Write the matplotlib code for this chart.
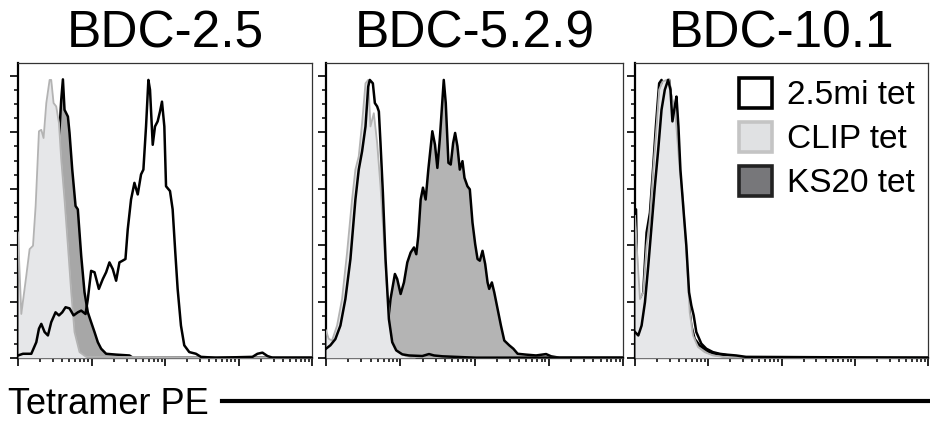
import matplotlib
matplotlib.use("Agg")
import matplotlib.pyplot as plt
from matplotlib.patches import Patch
import numpy as np

# ---------------- data (x in log10 decades of PE intensity, y in % of max) -------------
titles = ["BDC-2.5", "BDC-5.2.9", "BDC-10.1"]
legend_labels = ["2.5mi tet", "CLIP tet", "KS20 tet"]
axis_label = "Tetramer PE"

# Panel 1 : BDC-2.5
p1_clip_x = [0, .045, .113, .158, .204, .240, .285, .317, .348, .385, .430, .452, .484, .520, .557, .588, .633, .679, .724, .769, .837, .928, 4.0]
p1_clip_y = [44.5, 15.6, 29.2, 38.6, 39.8, 53.9, 80.4, 80.9, 78.0, 90.4, 98.6, 98.6, 90.4, 89.2, 83.3, 70.4, 56.2, 39.8, 23.3, 9.2, 2.1, 0.4, 0.1]
p1_ks20_x = [0, .158, .294, .430, .520, .566, .588, .611, .633, .656, .679, .701, .738, .783, .814, .860, .905, .950, .995, 1.041, 1.086, 1.131, 1.199, 1.335, 1.516, 1.561, 4.0]
p1_ks20_y = [0.4, 2.1, 11.5, 46.8, 70.4, 81.5, 91.5, 98.8, 88.0, 86.8, 85.6, 79.8, 66.8, 53.9, 52.7, 36.2, 23.3, 16.2, 12.7, 9.2, 5.6, 3.3, 1.5, 1.2, 0.9, 0.1, 0.1]
p1_mi_x = [0, .068, .181, .249, .285, .317, .362, .407, .452, .511, .557, .602, .647, .701, .756, .814, .860, .919, .950, .995,
           1.041, 1.100, 1.154, 1.199, 1.244, 1.290, 1.335, 1.380, 1.416, 1.462, 1.493, 1.538, 1.584, 1.629, 1.674, 1.706, 1.742,
           1.774, 1.796, 1.833, 1.864, 1.900, 1.932, 1.959, 1.991, 2.014, 2.068, 2.104, 2.140, 2.172, 2.217, 2.262, 2.330, 2.421,
           2.489, 2.692, 3.190, 3.258, 3.326, 3.394, 3.462, 4.0]
p1_mi_y = [0.9, 1.5, 1.5, 5.6, 10.4, 12.1, 9.2, 8.0, 12.7, 16.2, 15.1, 16.2, 18.0, 17.6, 15.1, 16.2, 16.8, 15.6, 20.9, 30.9,
           30.4, 24.5, 28.0, 30.4, 33.9, 31.5, 27.4, 33.9, 34.4, 35.1, 45.6, 56.2, 62.1, 58.0, 65.1, 66.8, 82.1,
           98.6, 95.1, 75.6, 82.1, 83.9, 87.4, 90.9, 82.1, 60.9, 59.2, 52.7, 37.4, 24.5, 11.5, 4.5, 2.1, 1.5,
           0.4, 0.1, 0.4, 1.5, 1.9, 0.7, 0.1, 0.1]

# Panel 2 : BDC-5.2.9
p2_clip_x = [0, .036, .081, .149, .216, .284, .351, .396, .441, .486, .532, .568, .599, .644, .689, .734, .779, .824, .869, .914, .982, 1.072, 1.207, 4.0]
p2_clip_y = [9.8, 6.8, 6.2, 11.5, 20.9, 37.4, 56.2, 66.8, 71.5, 83.3, 97.4, 98.6, 82.1, 86.8, 76.2, 60.9, 42.1, 23.3, 11.5, 5.6, 2.1, 0.7, 0.1, 0.1]
p2_mi_x = [0, .059, .126, .194, .261, .329, .396, .441, .486, .532, .568, .590, .631, .658, .689, .712, .734, .766, .802, .847,
           .892, .946, 1.027, 1.117, 1.297, 1.387, 1.455, 1.568, 2.018, 4.0]
p2_mi_y = [3.3, 4.5, 6.7, 11.5, 20.9, 35.1, 56.2, 66.8, 73.3, 82.1, 96.2, 98.6, 97.4, 90.4, 89.2, 87.4, 76.2, 58.6, 35.1, 13.8,
           5.6, 2.7, 1.3, 0.9, 0.7, 1.4, 0.9, 0.6, 0.1, 0.1]
p2_ks20_x = [0, .441, .667, .802, .869, .928, .959, 1.005, 1.050, 1.095, 1.140, 1.185, 1.216, 1.243, 1.275, 1.306, 1.342, 1.378,
             1.432, 1.468, 1.500, 1.532, 1.559, 1.586, 1.613, 1.649, 1.680, 1.712, 1.739, 1.770, 1.802, 1.838, 1.865, 1.905,
             1.937, 1.973, 2.009, 2.041, 2.072, 2.108, 2.144, 2.176, 2.198, 2.234, 2.266, 2.311, 2.356, 2.401, 2.468, 2.523,
             2.581, 2.694, 2.829, 2.964, 3.032, 3.144, 4.0]
p2_ks20_y = [0.4, 0.9, 2.1, 4.5, 20.9, 29.8, 28.0, 22.7, 26.8, 33.9, 37.4, 39.2, 36.8, 43.3, 56.2, 60.4, 56.2, 66.8,
             80.4, 75.6, 67.4, 77.4, 88.0, 98.6, 90.4, 69.2, 68.6, 76.2, 79.8, 75.1, 66.8, 69.8, 63.9, 60.9,
             59.8, 48.0, 40.4, 35.1, 34.5, 38.0, 33.3, 26.8, 24.5, 26.8, 23.3, 17.4, 11.5, 6.2, 4.5, 3.3,
             1.5, 1.2, 0.9, 1.4, 0.6, 0.1, 0.1]

# Panel 3 : BDC-10.1
p3_clip_x = [0, .023, .068, .113, .158, .204, .249, .294, .330, .376, .430, .466, .498, .543, .575, .611, .656, .701, .747, .792, .860, .950, 1.063, 1.199, 4.0]
p3_clip_y = [50.4, 39.8, 20.9, 23.3, 39.8, 49.2, 66.8, 82.1, 95.1, 98.0, 98.6, 98.8, 92.7, 89.2, 78.6, 66.8, 56.2, 37.4, 16.1, 8.0, 3.9, 2.1, 0.9, 0.4, 0.1]
p3_mi_x = [0, .045, .090, .136, .181, .226, .271, .317, .362, .407, .452, .484, .511, .543, .566, .593, .620, .665, .701, .738,
           .769, .801, .837, .905, .973, 1.063, 1.154, 1.244, 1.380, 1.516, 4.0]
p3_mi_y = [9.2, 8.0, 11.5, 19.8, 32.7, 46.8, 60.9, 73.9, 88.0, 95.1, 98.6, 95.1, 83.9, 89.2, 92.7, 82.1, 66.8, 51.5, 39.8, 23.3,
           18.6, 15.1, 9.2, 5.1, 3.3, 2.1, 1.5, 1.2, 0.9, 0.4, 0.1]
p3_ks20_x = [0, .014, .032, .068, .113, .158, .204, .249, .285, .330, .362, .394, .430, .466, .498, .543, .588, .633, .679, .724,
             .769, .814, .882, .950, 1.018, 1.109, 1.199, 1.335, 1.425, 4.0]
p3_ks20_y = [52.7, 52.7, 23.3, 18.6, 23.3, 44.5, 51.5, 68.0, 82.1, 97.4, 98.6, 95.6, 98.0, 98.6, 91.5, 85.6, 70.4, 58.6, 42.1, 20.9,
             11.5, 6.8, 4.5, 3.3, 2.1, 1.5, 1.2, 0.7, 0.1, 0.1]

panels = [
    dict(clip=(p1_clip_x, p1_clip_y), ks20=(p1_ks20_x, p1_ks20_y), mi=(p1_mi_x, p1_mi_y), ks_fill="#a7a7a7"),
    dict(clip=(p2_clip_x, p2_clip_y), ks20=(p2_ks20_x, p2_ks20_y), mi=(p2_mi_x, p2_mi_y), ks_fill="#b4b4b4"),
    dict(clip=(p3_clip_x, p3_clip_y), ks20=(p3_ks20_x, p3_ks20_y), mi=(p3_mi_x, p3_mi_y), ks_fill="#a9a9a9"),
]

# ---------------- styling ----------------
plt.rcParams['font.family'] = ['Liberation Sans', 'DejaVu Sans']
W, H = 930, 422
fig = plt.figure(figsize=(W / 100, H / 100), dpi=100)

axes_px = [(18, 312), (326, 623), (635, 928)]
top_px, bot_px = 63, 358

CLIP_FILL, CLIP_EDGE = "#e6e7e9", "#b3b3b3"

minor_x = [d + np.log10(k) for d in range(4) for k in range(2, 10)]

for i, (l, r) in enumerate(axes_px):
    ax = fig.add_axes([l / W, 1 - bot_px / H, (r - l) / W, (bot_px - top_px) / H])
    p = panels[i]
    kx, ky = p['ks20']
    ax.fill_between(kx, ky, 0, color=p['ks_fill'], lw=0, zorder=1)
    ax.plot(kx, ky, color="black", lw=1.8, zorder=2)
    cx, cy = p['clip']
    ax.fill_between(cx, cy, 0, color=CLIP_FILL, lw=0, zorder=3)
    ax.plot(cx, cy, color=CLIP_EDGE, lw=1.3, zorder=4)
    mx, my = p['mi']
    ax.plot(mx, my, color="black", lw=1.8, zorder=5)

    ax.set_xlim(0, 4)
    ax.set_ylim(0, 104.6)
    ax.set_xticks([0, 1, 2, 3, 4])
    ax.set_xticks(minor_x, minor=True)
    ax.set_yticks([0, 20, 40, 60, 80, 100])
    ax.set_yticks([v for v in np.arange(5, 100, 5) if v % 20 != 0], minor=True)
    ax.tick_params(which='major', direction='out', length=6, width=1.2, labelbottom=False, labelleft=False)
    ax.tick_params(which='minor', direction='out', length=2.8, width=1.1)
    for s in ['left', 'bottom']:
        ax.spines[s].set_linewidth(1.6)
        ax.spines[s].set_color('black')
    for s in ['top', 'right']:
        ax.spines[s].set_linewidth(0.9)
        ax.spines[s].set_color('#333333')

    fig.text((l + r) / 2 / W, 1 - 48 / H, titles[i], ha='center', va='baseline', fontsize=37)

    if i == 2:
        handles = [
            Patch(facecolor="white", edgecolor="black", linewidth=2.6),
            Patch(facecolor="#e0e1e3", edgecolor="#c4c4c4", linewidth=2.6),
            Patch(facecolor="#77777a", edgecolor="#222222", linewidth=2.6),
        ]
        fig.legend(handles, legend_labels, loc='upper left', bbox_to_anchor=(739 / W, 1 - 78 / H),
                   frameon=False, borderpad=0, borderaxespad=0, handlelength=1.0, handleheight=1.0,
                   handletextpad=0.45, labelspacing=0.32, fontsize=24)

fig.text(8 / W, 1 - 414 / H, axis_label, ha='left', va='baseline', fontsize=26)
fig.add_artist(plt.Line2D([222 / W, 1.0], [1 - 401 / H, 1 - 401 / H], color='black', lw=3.0))

fig.savefig("out.png", dpi=100)
